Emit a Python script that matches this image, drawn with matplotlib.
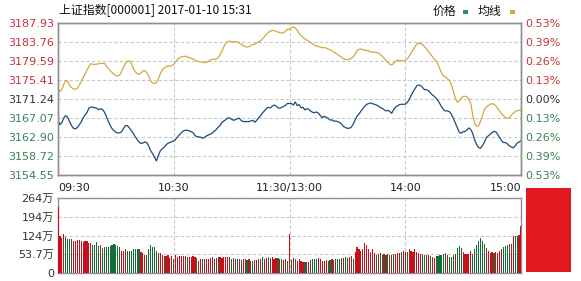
import matplotlib
matplotlib.use('Agg')
import matplotlib.pyplot as plt
from matplotlib.patches import Rectangle
import numpy as np

plt.rcParams['font.family'] = ['DejaVu Sans', 'Noto Sans CJK SC']

# ---------------- data ----------------
minutes = np.arange(241)

price = [
    3166.57, 3165.62, 3166.06, 3167.08, 3167.59, 3167.23, 3166.28, 3165.40, 3164.81, 3164.67,
    3164.96, 3165.54, 3166.20, 3167.08, 3167.74, 3168.25, 3169.20, 3169.49, 3169.42, 3169.35,
    3169.20, 3168.91, 3169.06, 3168.98, 3168.40, 3167.52, 3166.42, 3165.47, 3164.74, 3164.30,
    3163.93, 3163.79, 3163.79, 3164.08, 3164.81, 3165.40, 3165.40, 3164.89, 3164.30, 3163.72,
    3162.98, 3162.33, 3161.81, 3161.45, 3161.59, 3161.81, 3161.67, 3160.93, 3159.91, 3159.25,
    3158.52, 3157.64, 3158.81, 3159.84, 3160.28, 3160.64, 3161.15, 3161.52, 3161.67, 3161.89,
    3162.03, 3162.40, 3162.91, 3163.42, 3163.86, 3164.23, 3164.37, 3164.37, 3164.23, 3164.08,
    3163.86, 3163.20, 3162.98, 3162.91, 3162.84, 3162.62, 3162.84, 3163.13, 3163.35, 3163.50,
    3163.79, 3164.15, 3164.52, 3165.03, 3165.40, 3166.13, 3166.42, 3166.71, 3167.08, 3167.08,
    3166.79, 3166.57, 3166.71, 3166.93, 3167.01, 3166.50, 3166.28, 3166.28, 3166.28, 3166.28,
    3166.42, 3166.57, 3166.13, 3166.57, 3167.08, 3167.59, 3168.18, 3168.62, 3169.13, 3169.42,
    3169.28, 3169.64, 3169.93, 3169.71, 3169.28, 3169.20, 3169.42, 3169.64, 3169.86, 3170.30,
    3170.23,
    3170.23, 3169.93, 3170.59, 3169.79, 3170.01, 3169.28, 3169.42, 3168.84, 3169.13, 3168.98,
    3168.54, 3168.32, 3168.25, 3168.40, 3168.11, 3167.59, 3167.15, 3167.45, 3167.23, 3167.01,
    3166.64, 3166.64, 3166.35, 3166.42, 3166.28, 3166.06, 3165.76, 3165.18, 3164.96, 3164.81,
    3164.81, 3165.03, 3165.69, 3166.64, 3167.45, 3167.96, 3168.54, 3169.13, 3169.64, 3170.08,
    3170.23, 3170.37, 3170.23, 3170.08, 3169.93, 3169.71, 3169.35, 3169.20, 3168.91, 3168.62,
    3168.76, 3168.47, 3168.11, 3168.91, 3169.49, 3169.71, 3170.01, 3170.08, 3170.08, 3170.08,
    3170.45, 3171.10, 3171.98, 3172.79, 3173.45, 3174.18, 3174.32, 3174.18, 3173.74, 3173.30,
    3173.30, 3173.08, 3172.64, 3172.13, 3171.84, 3171.40, 3170.88, 3170.15, 3169.42, 3168.84,
    3168.62, 3168.62, 3168.40, 3167.81, 3166.93, 3165.91, 3164.89, 3163.93, 3163.72, 3164.08,
    3164.08, 3164.45, 3164.89, 3164.52, 3163.64, 3162.25, 3161.23, 3160.57, 3160.42, 3161.01,
    3161.74, 3162.76, 3163.13, 3163.50, 3163.86, 3164.15, 3164.01, 3163.42, 3162.69, 3162.03,
    3161.67, 3161.67, 3161.37, 3160.93, 3160.72, 3160.50, 3160.93, 3161.59, 3161.81, 3162.03,
]

avg_price = [
    3173.59, 3172.93, 3173.30, 3174.47, 3175.27, 3175.13, 3174.25, 3173.74, 3173.45, 3173.37,
    3173.59, 3174.25, 3175.05, 3175.93, 3176.74, 3177.54, 3178.35, 3179.01, 3178.86, 3178.86,
    3178.86, 3179.01, 3179.01, 3179.08, 3179.08, 3178.57, 3177.91, 3177.47, 3177.10, 3176.66,
    3176.37, 3176.30, 3176.52, 3177.32, 3178.27, 3179.08, 3179.59, 3179.59, 3179.15, 3177.98,
    3177.25, 3176.81, 3176.59, 3176.96, 3177.40, 3177.47, 3177.03, 3176.23, 3175.27, 3174.69,
    3174.69, 3174.84, 3175.64, 3176.74, 3177.62, 3178.05, 3178.35, 3178.42, 3178.49, 3178.57,
    3178.86, 3179.44, 3179.96, 3180.32, 3180.47, 3180.62, 3180.62, 3180.47, 3180.32, 3180.18,
    3180.03, 3179.81, 3179.59, 3179.44, 3179.44, 3179.30, 3179.22, 3179.30, 3179.52, 3179.81,
    3179.96, 3179.96, 3180.03, 3180.32, 3180.91, 3181.79, 3182.74, 3183.54, 3183.91, 3183.91,
    3183.83, 3183.83, 3183.83, 3183.76, 3183.54, 3183.25, 3182.96, 3182.74, 3182.66, 3182.74,
    3183.03, 3183.18, 3183.32, 3183.54, 3183.76, 3184.05, 3184.42, 3184.93, 3185.44, 3185.88,
    3186.10, 3186.32, 3186.25, 3186.10, 3185.96, 3185.81, 3185.74, 3185.81, 3186.18, 3186.61,
    3186.47,
    3186.91, 3187.05, 3186.83, 3186.32, 3185.66, 3185.15, 3184.79, 3184.42, 3184.20, 3183.91,
    3183.61, 3183.32, 3183.03, 3182.88, 3182.74, 3182.66, 3182.52, 3182.52, 3182.44, 3182.22,
    3182.08, 3181.86, 3181.57, 3181.27, 3180.98, 3180.69, 3180.40, 3180.10, 3179.88, 3179.88,
    3180.03, 3180.18, 3180.47, 3181.13, 3181.86, 3182.15, 3182.22, 3182.08, 3181.93, 3181.93,
    3181.79, 3181.64, 3181.49, 3181.49, 3181.49, 3181.35, 3181.05, 3180.62, 3180.25, 3179.66,
    3179.22, 3178.86, 3178.71, 3179.08, 3179.52, 3179.74, 3179.74, 3179.66, 3179.59, 3179.74,
    3179.96, 3180.62, 3181.35, 3182.01, 3182.74, 3183.32, 3183.54, 3183.40, 3183.18, 3182.74,
    3182.22, 3181.71, 3181.13, 3180.62, 3180.03, 3179.59, 3178.79, 3177.76, 3176.81, 3176.23,
    3176.01, 3175.64, 3175.27, 3174.25, 3172.86, 3171.47, 3170.52, 3170.88, 3171.47, 3171.84,
    3171.84, 3171.69, 3171.25, 3170.15, 3167.74, 3165.91, 3165.25, 3165.32, 3166.35, 3167.59,
    3168.91, 3169.49, 3169.79, 3170.08, 3170.23, 3170.08, 3169.71, 3169.06, 3168.54, 3167.96,
    3167.52, 3167.15, 3167.01, 3167.15, 3167.67, 3168.11, 3168.47, 3168.69, 3168.76, 3168.76,
]

# volume in 万 (10k)
volume = [
    233, 129, 123, 137, 126, 121, 121, 121, 112, 112,
    115, 117, 112, 108, 114, 114, 106, 107, 97, 100,
    110, 94, 100, 88, 91, 91, 92, 94, 98, 102,
    100, 94, 92, 79, 77, 86, 79, 79, 79, 86,
    84, 86, 83, 74, 71, 65, 65, 83, 97, 92,
    91, 79, 71, 71, 65, 59, 59, 62, 53, 59,
    51, 62, 57, 59, 59, 59, 59, 57, 57, 57,
    59, 58, 53, 42, 51, 51, 50, 50, 50, 53,
    58, 50, 53, 58, 58, 53, 56, 56, 56, 56,
    51, 53, 51, 49, 51, 45, 50, 50, 47, 49,
    42, 44, 45, 47, 49, 48, 56, 50, 53, 58,
    53, 56, 51, 53, 53, 51, 49, 47, 49, 44,
    137,
    47, 53, 51, 44, 50, 42, 40, 40, 40, 40,
    46, 48, 48, 48, 53, 48, 44, 44, 47, 44,
    47, 50, 47, 50, 51, 51, 53, 53, 56, 53,
    56, 59, 50, 74, 93, 83, 77, 85, 106, 100,
    85, 74, 85, 71, 65, 67, 70, 65, 67, 65,
    67, 65, 65, 67, 67, 72, 70, 74, 77, 74,
    74, 85, 79, 74, 83, 74, 69, 66, 67, 65,
    62, 62, 59, 56, 53, 59, 59, 63, 65, 67,
    71, 62, 57, 57, 63, 67, 88, 94, 88, 73,
    67, 67, 67, 77, 67, 86, 98, 114, 123, 114,
    102, 88, 77, 71, 74, 71, 74, 71, 79, 83,
    91, 94, 98, 102, 103, 131, 130, 129, 135, 164,
]

# r = up minute, g = down minute
vol_dir = (
    "rrrrggggrr" "rrrrrrrrgg" "ggrggggggg" "gggrrrgggg" "gggrrrgggg" "ggrrrgrrrr"
    "grrrrrrgrr" "rrgrrgrrrr" "rgrgrrrrrr" "ggrgrgrrgr" "ggrrgrgrrg" "rrrrgrgrrg"
    "r"
    "grgrrrrgrr" "ggggrrrrrg" "grgrgggrgg" "rrgrrrrrrr" "rrrrgrggrg" "rgrgrrrgrr"
    "grrrrrrrgg" "rrgrrggggg" "grgggrgggr" "rrrrgggggg" "grrrrgrrrr" "ggggrrggrr"
)

price_ticks = [3154.55, 3158.72, 3162.90, 3167.07, 3171.24, 3175.41, 3179.59, 3183.76, 3187.93]
pct_labels = ['0.53%', '0.39%', '0.26%', '0.13%', '0.00%', '0.13%', '0.26%', '0.39%', '0.53%']
time_ticks = [0, 60, 120, 180, 240]
time_labels = ['09:30', '10:30', '11:30/13:00', '14:00', '15:00']
vol_ticks = [0, 66, 132, 198, 264]
vol_labels = ['0', '53.7万', '124万', '194万', '264万']
title = '上证指数[000001] 2017-01-10 15:31'
legend_items = ['价格', '均线']

# ---------------- style ----------------
W, H = 581, 281
RED_T = '#c4343c'
GREEN_T = '#3c8058'
DARK_T = '#333333'
LINE_BLUE = '#1b4b7d'
LINE_GOLD = '#d4a93c'
BAR_RED = '#c8101c'
BAR_GREEN = '#166c38'
GRID = '#c8c8c8'
SPINE = '#8f8f8f'
FS = 8

fig = plt.figure(figsize=(W / 100, H / 100), dpi=100)
fig.patch.set_facecolor('white')

def fx(px):
    return px / W

def fy(py):
    return 1 - py / H

# main price panel
ax = fig.add_axes([fx(58), fy(175), fx(463), 152 / H])
ax.plot(minutes, avg_price, color=LINE_GOLD, lw=0.9, zorder=3)
ax.plot(minutes, price, color=LINE_BLUE, lw=0.9, zorder=4)
ax.set_xlim(0, 240)
ax.set_ylim(price_ticks[0], price_ticks[-1])
ax.set_yticks(price_ticks)
ax.set_yticklabels([f'{v:.2f}' for v in price_ticks])
n = len(price_ticks)
for i, lab in enumerate(ax.get_yticklabels()):
    lab.set_color(GREEN_T if i < n // 2 else (DARK_T if i == n // 2 else RED_T))
ax.set_xticks(time_ticks)
ax.set_xticklabels(time_labels)
xl = ax.get_xticklabels()
xl[0].set_horizontalalignment('left')
xl[-1].set_horizontalalignment('right')
for lab in xl:
    lab.set_color('#222222')
ax.tick_params(axis='both', length=0, labelsize=FS)
ax.tick_params(axis='x', pad=6)
ax.tick_params(axis='y', pad=3)
ax.grid(True, ls=(0, (3, 2)), color=GRID, lw=0.8)
for s in ax.spines.values():
    s.set_color(SPINE)
    s.set_linewidth(1)

ax2 = ax.twinx()
ax2.set_ylim(price_ticks[0], price_ticks[-1])
ax2.set_yticks(price_ticks)
ax2.set_yticklabels(pct_labels[::-1])
for i, lab in enumerate(ax2.get_yticklabels()):
    lab.set_color(GREEN_T if i < n // 2 else (DARK_T if i == n // 2 else RED_T))
ax2.tick_params(axis='y', length=0, labelsize=FS, pad=3)
for s in ax2.spines.values():
    s.set_color(SPINE)
    s.set_linewidth(1)

# volume panel
vax = fig.add_axes([fx(58), fy(273), fx(463), 75 / H])
bar_colors = [BAR_RED if d == 'r' else BAR_GREEN for d in vol_dir]
vax.bar(minutes, volume, width=0.6, color=bar_colors, linewidth=0, zorder=3,
        antialiased=False)
vax.set_xlim(0, 240)
vax.set_ylim(0, 264)
vax.set_yticks(vol_ticks)
vax.set_yticklabels(vol_labels)
for lab in vax.get_yticklabels():
    lab.set_color(DARK_T)
vax.set_xticks([60, 120, 180])
vax.set_xticklabels([])
vax.tick_params(axis='both', length=0, labelsize=FS, pad=3)
vax.grid(True, ls=(0, (3, 2)), color=GRID, lw=0.8)
for s in vax.spines.values():
    s.set_color(SPINE)
    s.set_linewidth(1)

# title & legend
fig.text(fx(59), fy(11), title, fontsize=8.6, va='center', ha='left',
         color='#111111', family=['Noto Sans CJK SC', 'DejaVu Sans'])
fig.text(fx(433), fy(11), legend_items[0], fontsize=8.6, va='center', ha='left',
         color='#111111', family=['Noto Sans CJK SC', 'DejaVu Sans'])
fig.add_artist(Rectangle((fx(463), fy(14)), fx(5), 4 / H, transform=fig.transFigure,
                         color='#1f8c8a', lw=0))
fig.text(fx(478), fy(11), legend_items[1], fontsize=8.6, va='center', ha='left',
         color='#111111', family=['Noto Sans CJK SC', 'DejaVu Sans'])
fig.add_artist(Rectangle((fx(510), fy(14)), fx(5), 4 / H, transform=fig.transFigure,
                         color=LINE_GOLD, lw=0))

# red block on the right
fig.add_artist(Rectangle((fx(526), fy(272)), fx(45), 84 / H, transform=fig.transFigure,
                         color='#e0191f', lw=0))

fig.savefig('out.png', dpi=100, facecolor='white')
